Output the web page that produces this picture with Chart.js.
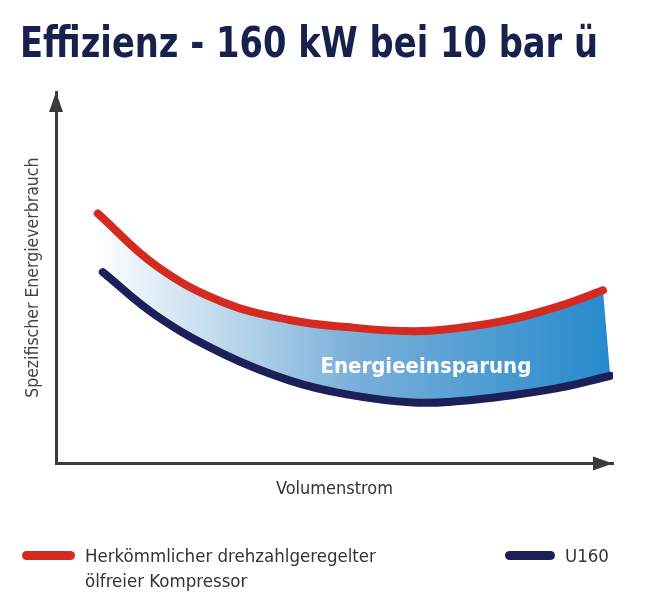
<!DOCTYPE html>
<html lang="de">
<head>
<meta charset="UTF-8">
<title>Effizienz - 160 kW bei 10 bar ü</title>
<script src="https://cdn.jsdelivr.net/npm/chart.js"></script>
<style>
    body { margin: 0; background: #fff; }
    .wrap { position: relative; width: 645px; height: 600px; }
    .legende { position: absolute; left: 0; top: 543px; width: 645px;
               font-family: 'Liberation Sans Narrow', 'DejaVu Sans Condensed', sans-serif;
               font-size: 18.5px; color: #333; line-height: 25px; }
    .item { position: absolute; top: 0; }
    .item .linie { position: absolute; top: 8px; height: 9px; border-radius: 5px; }
    .item .text { position: absolute; white-space: nowrap; }
</style>
</head>
<body>
<div class="wrap">
    <canvas id="effizienz" width="645" height="600"></canvas>
    <div class="legende">
        <div class="item" style="left:22px">
            <div class="linie" style="left:0;width:53px;background:#d42a20"></div>
            <div class="text" style="left:63px">Herkömmlicher drehzahlgeregelter<br>ölfreier Kompressor</div>
        </div>
        <div class="item" style="left:505px">
            <div class="linie" style="left:0;width:50px;background:#1b2158"></div>
            <div class="text" style="left:60px">U160</div>
        </div>
    </div>
</div>

<script>
// Werte (relative Einheiten, 0..100)
const volumenstromAlt = [7.5, 18.1, 30.0, 42.0, 52.2, 64.1, 72.5, 81.5, 90.5, 98.2];
const verbrauchAlt    = [67.3, 53.1, 43.4, 38.6, 36.7, 35.6, 36.5, 38.7, 42.4, 46.6];

const volumenstromU160 = [8.4, 18.1, 30.0, 42.0, 52.2, 64.1, 72.5, 81.5, 90.5, 99.5];
const verbrauchU160    = [51.5, 39.7, 29.5, 22.3, 18.6, 16.4, 16.8, 18.3, 20.4, 23.6];

const serien = ['Herkömmlicher drehzahlgeregelter ölfreier Kompressor', 'U160'];
const titel = 'Effizienz - 160 kW bei 10 bar ü';
const einsparung = { text: 'Energieeinsparung', x: 66.4, y: 26.0 };

const schrift = "'Liberation Sans Narrow', 'DejaVu Sans Condensed', sans-serif";

function punkte(xs, ys) {
    return xs.map((x, i) => ({ x: x, y: ys[i] }));
}

// Flaeche zwischen den beiden Kurven mit Verlauf weiss -> blau
const flaechePlugin = {
    id: 'flaeche',
    beforeDatasetsDraw(chart) {
        const ctx = chart.ctx;
        const oben = chart.getDatasetMeta(0).data;
        const unten = chart.getDatasetMeta(1).data;
        const grad = ctx.createLinearGradient(oben[0].x, 0, unten[unten.length - 1].x, 0);
        grad.addColorStop(0, '#ffffff');
        grad.addColorStop(0.5, 'rgb(122,176,218)');
        grad.addColorStop(1, 'rgb(38,138,204)');

        ctx.save();
        ctx.beginPath();
        ctx.moveTo(oben[0].x, oben[0].y);
        for (let i = 1; i < oben.length; i++) {
            const a = oben[i - 1], b = oben[i];
            ctx.bezierCurveTo(a.cp2x, a.cp2y, b.cp1x, b.cp1y, b.x, b.y);
        }
        const letzter = unten[unten.length - 1];
        ctx.lineTo(letzter.x, letzter.y);
        for (let i = unten.length - 1; i > 0; i--) {
            const a = unten[i], b = unten[i - 1];
            ctx.bezierCurveTo(a.cp1x, a.cp1y, b.cp2x, b.cp2y, b.x, b.y);
        }
        ctx.closePath();
        ctx.fillStyle = grad;
        ctx.fill();
        ctx.restore();
    },
    afterDatasetsDraw(chart) {
        const ctx = chart.ctx;
        ctx.save();
        ctx.fillStyle = '#ffffff';
        ctx.font = "bold 22px " + schrift;
        ctx.textAlign = 'center';
        ctx.textBaseline = 'middle';
        ctx.fillText(einsparung.text, chart.scales.x.getPixelForValue(einsparung.x),
                     chart.scales.y.getPixelForValue(einsparung.y));
        ctx.restore();
    }
};

// Titel oben links und Pfeilspitzen an den Achsen
const pfeilPlugin = {
    id: 'pfeile',
    afterDraw(chart) {
        const ctx = chart.ctx;
        const a = chart.chartArea;
        ctx.save();
        ctx.fillStyle = '#17214d';
        ctx.font = "bold 42px " + schrift;
        ctx.textAlign = 'left';
        ctx.textBaseline = 'middle';
        ctx.fillText(titel, 20, 46, 578);

        ctx.fillStyle = '#3a3a3a';
        ctx.beginPath();
        ctx.moveTo(a.right, a.bottom);
        ctx.lineTo(a.right - 20, a.bottom - 7);
        ctx.lineTo(a.right - 20, a.bottom + 7);
        ctx.closePath();
        ctx.fill();
        ctx.beginPath();
        ctx.moveTo(a.left, a.top);
        ctx.lineTo(a.left - 7, a.top + 20);
        ctx.lineTo(a.left + 7, a.top + 20);
        ctx.closePath();
        ctx.fill();
        ctx.restore();
    }
};

new Chart(document.getElementById('effizienz'), {
    type: 'line',
    data: {
        datasets: [{
            label: serien[0],
            data: punkte(volumenstromAlt, verbrauchAlt),
            borderColor: '#d42a20',
            borderWidth: 8,
            borderCapStyle: 'round',
            tension: 0.4,
            pointRadius: 0,
            fill: false
        }, {
            label: serien[1],
            data: punkte(volumenstromU160, verbrauchU160),
            borderColor: '#1b2158',
            borderWidth: 8,
            borderCapStyle: 'round',
            tension: 0.4,
            pointRadius: 0,
            fill: false
        }]
    },
    options: {
        responsive: false,
        animation: false,
        layout: { padding: { left: 20, right: 32, top: 92, bottom: 100 } },
        plugins: {
            legend: { display: false },
            tooltip: { enabled: false },
            title: { display: false }
        },
        scales: {
            x: {
                type: 'linear',
                min: 0,
                max: 100,
                grid: { display: false, drawTicks: false },
                ticks: { display: false },
                border: { display: true, color: '#3a3a3a', width: 3 },
                title: {
                    display: true,
                    text: 'Volumenstrom',
                    color: '#333',
                    font: { family: schrift, size: 18, lineHeight: 1.2 },
                    padding: { top: 15, bottom: 0 }
                }
            },
            y: {
                min: 0,
                max: 100,
                grid: { display: false, drawTicks: false },
                ticks: { display: false },
                border: { display: true, color: '#3a3a3a', width: 3 },
                title: {
                    display: true,
                    text: 'Spezifischer Energieverbrauch',
                    color: '#444',
                    font: { family: schrift, size: 17.5, lineHeight: 1.2 },
                    padding: { top: 3, bottom: 12 }
                }
            }
        }
    },
    plugins: [flaechePlugin, pfeilPlugin]
});
</script>
</body>
</html>
